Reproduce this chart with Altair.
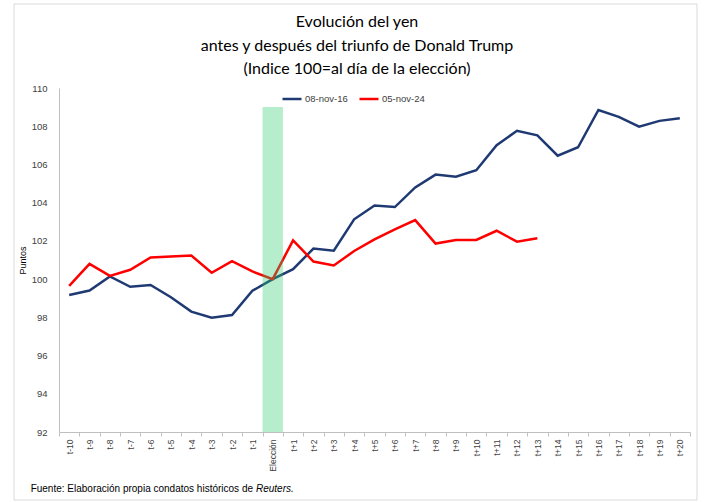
import altair as alt
import pandas as pd

categories = ["t-10", "t-9", "t-8", "t-7", "t-6", "t-5", "t-4", "t-3", "t-2", "t-1",
              "Elección",
              "t+1", "t+2", "t+3", "t+4", "t+5", "t+6", "t+7", "t+8", "t+9", "t+10",
              "t+11", "t+12", "t+13", "t+14", "t+15", "t+16", "t+17", "t+18", "t+19", "t+20"]

serie_2016 = [99.17, 99.40, 100.14, 99.60, 99.69, 99.05, 98.30, 97.98, 98.12, 99.39,
              100.0,
              100.52, 101.60, 101.49, 103.13, 103.85, 103.77, 104.80, 105.47, 105.36, 105.70,
              107.01, 107.76, 107.52, 106.46, 106.90, 108.85, 108.49, 107.98, 108.28, 108.42]

serie_2024 = [99.65, 100.80, 100.17, 100.49, 101.13, 101.18, 101.23, 100.33, 100.94, 100.40,
              100.0,
              102.03, 100.92, 100.71, 101.47, 102.08, 102.60, 103.09, 101.86, 102.05, 102.05,
              102.53, 101.96, 102.14]

series_names = ["08-nov-16", "05-nov-24"]
series_colors = ["#1F3A73", "#FF0000"]

title_lines = ["Evolución del yen",
               "antes y después del triunfo de Donald Trump",
               "(Indice 100=al día de la elección)"]

highlight_cat = ["Elección"]
highlight_top = [109]
y_ticks = list(range(92, 111, 2))

rows = []
for name, vals in zip(series_names, [serie_2016, serie_2024]):
    for c, v in zip(categories, vals):
        rows.append({"periodo": c, "valor": v, "serie": name})
df = pd.DataFrame(rows)

band_df = pd.DataFrame({"periodo": highlight_cat, "top": highlight_top, "bottom": [92]})
one = pd.DataFrame({"k": [0]})

xscale = alt.Scale(domain=categories, paddingInner=0, paddingOuter=0)
yscale = alt.Scale(domain=[92, 110], nice=False, zero=False)

xaxis = alt.Axis(title=None, labelAngle=270, labelFontSize=8.5,
                 labelFont="Liberation Sans", labelColor="#404040",
                 domainColor="#bfbfbf", tickColor="#bfbfbf",
                 tickBand="extent", tickSize=4, labelPadding=3,
                 labelOverlap=False)
yaxis = alt.Axis(values=y_ticks, ticks=False, grid=False,
                 domainColor="#bfbfbf", labelFontSize=9.5,
                 labelFont="Liberation Sans", labelColor="#404040",
                 labelPadding=12, labelOverlap=False,
                 title="Puntos", titleFontSize=9,
                 titleFont="Liberation Sans", titleFontWeight="normal",
                 titleColor="#000000", titlePadding=4)

lines = alt.Chart(df).mark_line(strokeWidth=2.5).encode(
    x=alt.X("periodo:N", sort=categories, scale=xscale, axis=xaxis),
    y=alt.Y("valor:Q", scale=yscale, axis=yaxis),
    color=alt.Color("serie:N", sort=series_names,
                    scale=alt.Scale(domain=series_names, range=series_colors),
                    legend=alt.Legend(title=None, orient="none", legendX=222, legendY=0,
                                      direction="horizontal", symbolType="stroke",
                                      symbolStrokeWidth=2.5, symbolSize=361,
                                      labelFontSize=9.5, labelFont="Liberation Sans",
                                      labelColor="#404040", labelOffset=2,
                                      columnPadding=6, padding=0)),
    detail="serie:N",
)

band = alt.Chart(band_df).mark_bar(color="#2ecc71", opacity=0.35).encode(
    x=alt.X("periodo:N", sort=categories, scale=xscale, axis=xaxis),
    y=alt.Y("top:Q", scale=yscale, axis=yaxis),
    y2="bottom:Q",
)

border = alt.Chart(one).mark_rect(filled=False, stroke="#d9d9d9", strokeWidth=1).encode(
    x=alt.value(-45), x2=alt.value(638), y=alt.value(-84), y2=alt.value(412)
)

title_layers = []
for txt, yy in zip(title_lines, [-66, -42, -19]):
    title_layers.append(
        alt.Chart(one).mark_text(text=txt, align="center", baseline="middle",
                                 fontSize=16, font="Lato", color="#000000").encode(
            x=alt.value(298), y=alt.value(yy)))

foot1 = alt.Chart(one).mark_text(text="Fuente: Elaboración propia condatos históricos de",
                                 align="right", baseline="middle", fontSize=10,
                                 font="Liberation Sans", color="#000000").encode(
    x=alt.value(194), y=alt.value(401))
foot2 = alt.Chart(one).mark_text(text="Reuters.", align="left", baseline="middle",
                                 fontSize=10, font="Liberation Sans", fontStyle="italic",
                                 color="#000000").encode(
    x=alt.value(197), y=alt.value(401))

chart = alt.layer(border, lines, band, foot1, foot2, *title_layers).properties(
    width=631, height=344,
    autosize=alt.AutoSizeParams(type="none"),
    padding={"left": 59, "top": 88, "right": 15, "bottom": 70},
).configure(background="white").configure_view(stroke=None)

chart.save("out.html", embed_options={"renderer": "svg", "actions": False})
